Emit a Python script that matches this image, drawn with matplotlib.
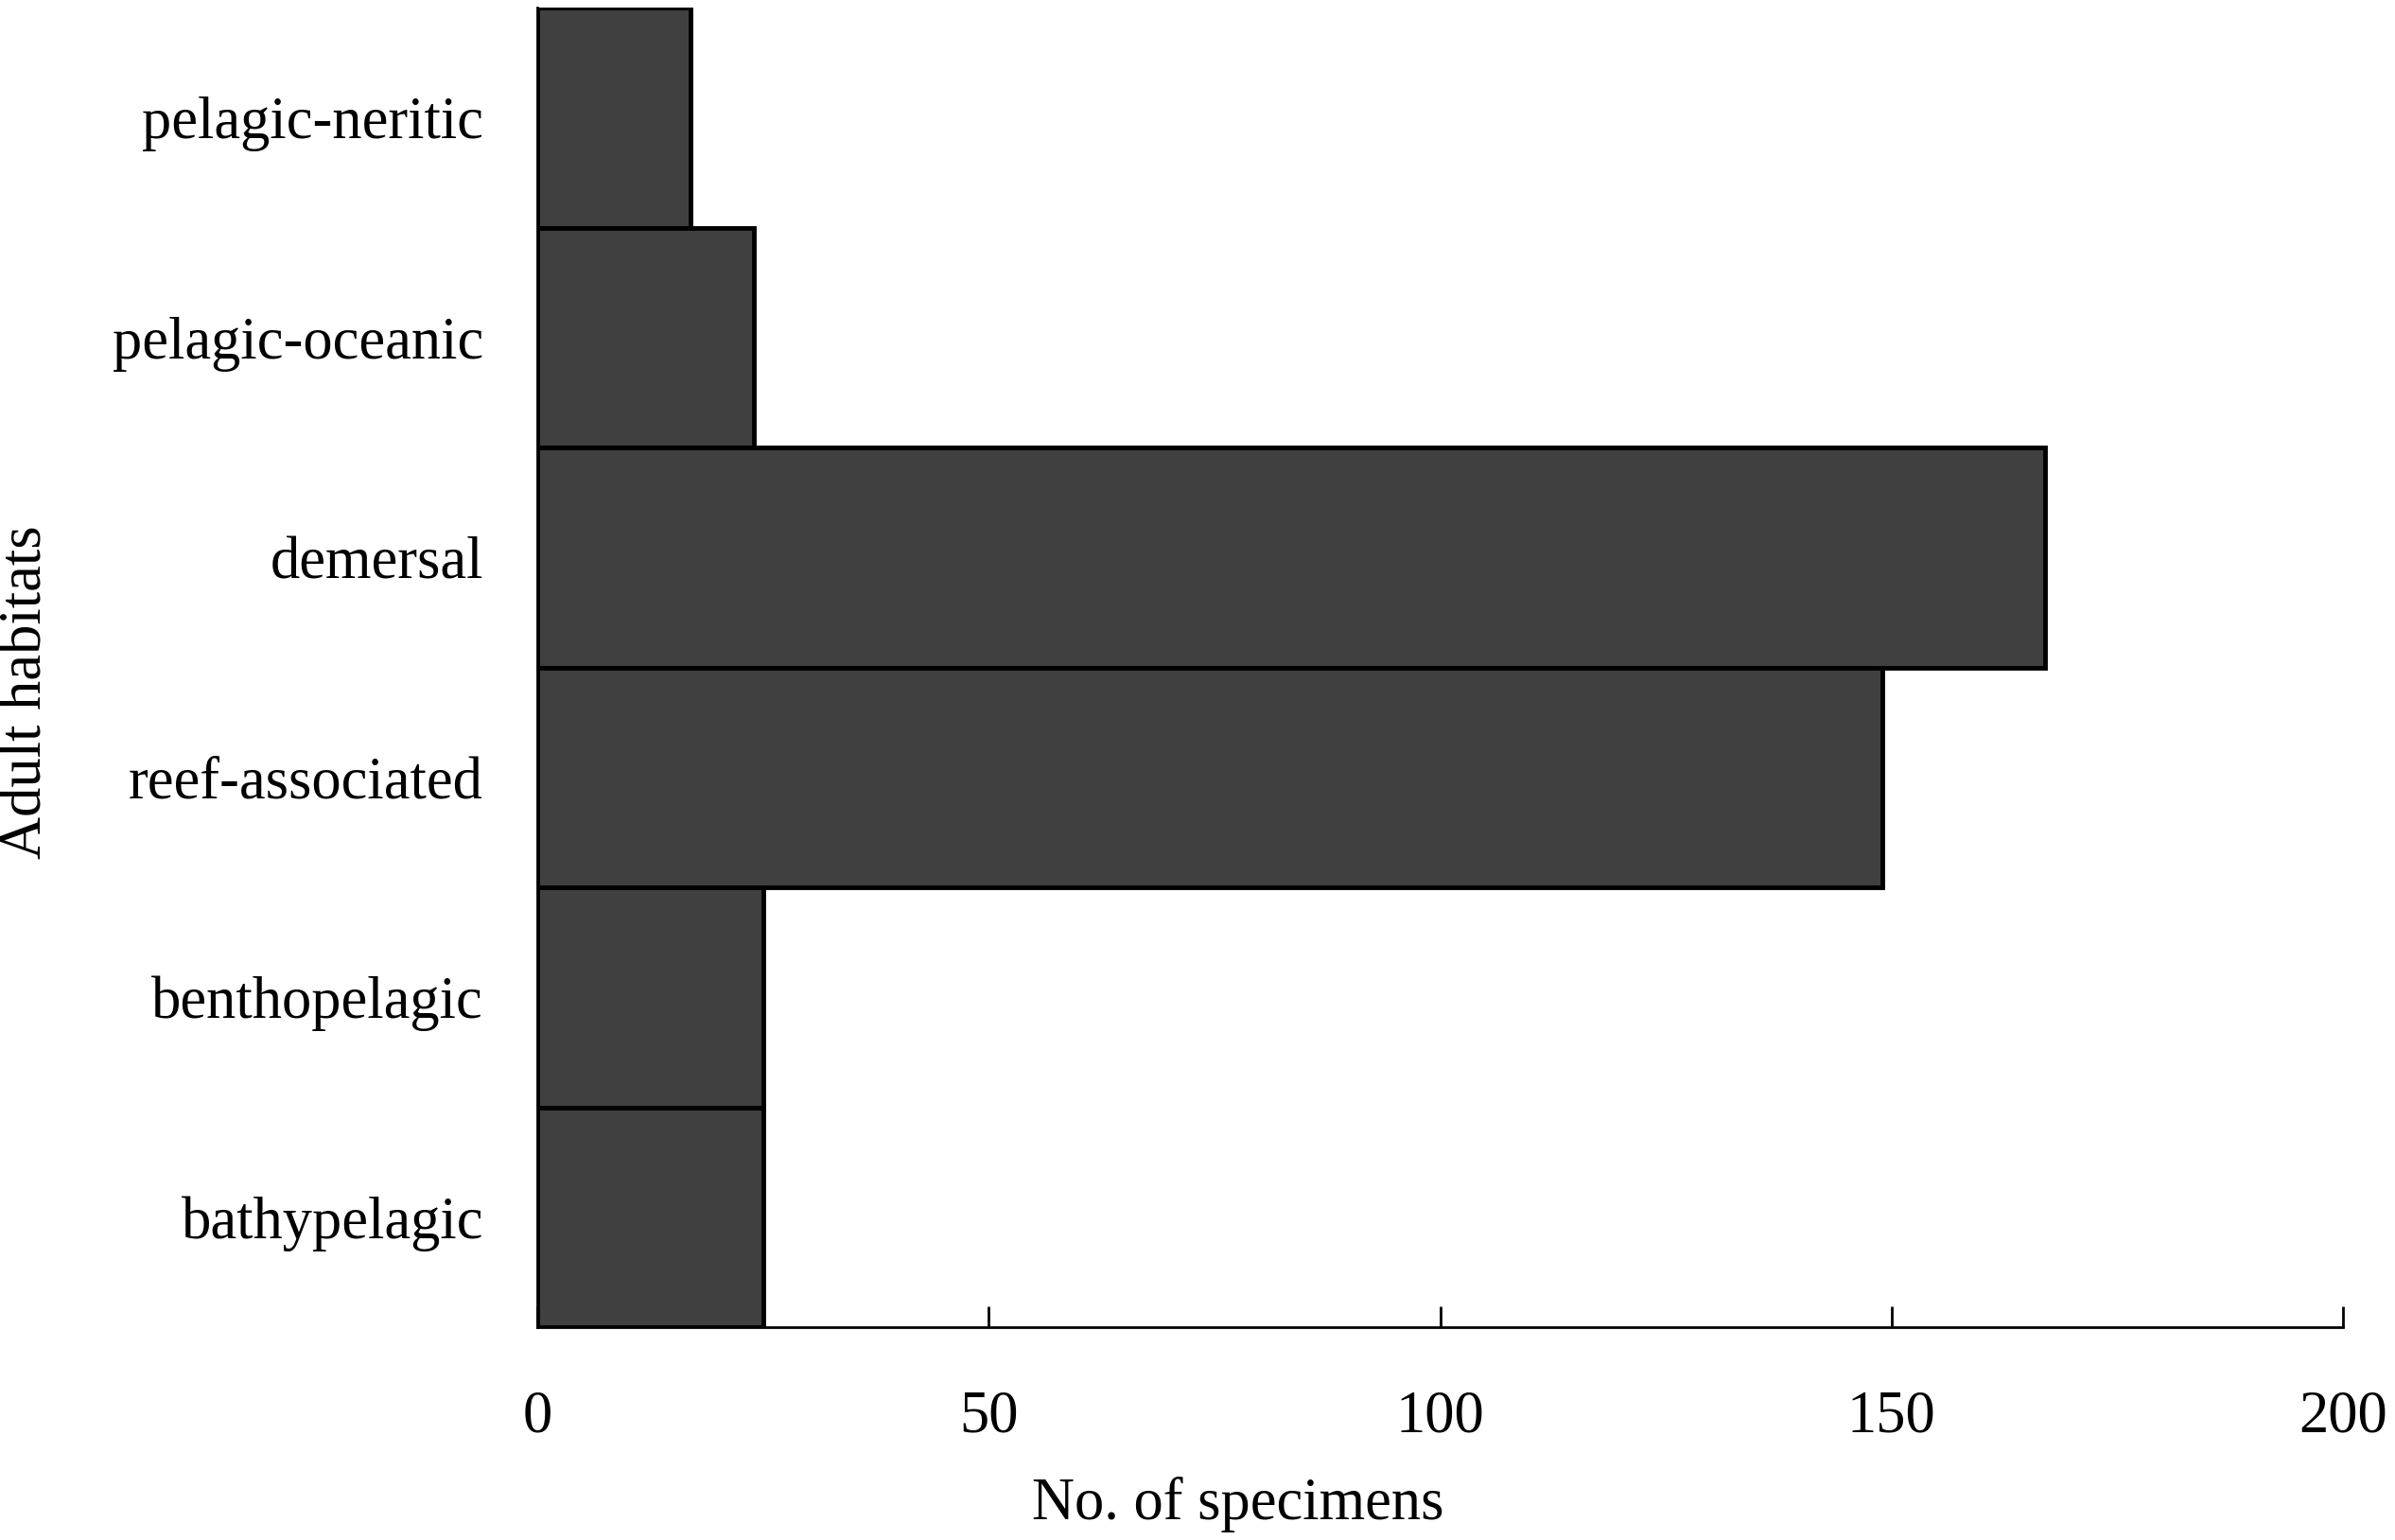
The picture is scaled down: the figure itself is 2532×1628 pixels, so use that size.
import matplotlib
matplotlib.use("Agg")
import matplotlib.pyplot as plt

categories = ["pelagic-neritic", "pelagic-oceanic", "demersal",
              "reef-associated", "benthopelagic", "bathypelagic"]
counts = [17, 24, 167, 149, 25, 25]
xticks = [0, 50, 100, 150, 200]
xlabel = "No. of specimens"
ylabel = "Adult habitats"

plt.rcParams['font.family'] = ['Liberation Serif', 'DejaVu Serif']

fig = plt.figure(figsize=(25.32, 16.28), dpi=100)
ax = fig.add_axes([568/2532, 1 - 1403/1628, (2477-568)/2532, (1403-8)/1628])

ypos = list(range(len(categories)))
ax.barh(ypos, counts, height=1.0, color="#404040", edgecolor="black", linewidth=3.5)
ax.set_ylim(len(categories) - 0.5, -0.5)
ax.set_xlim(0, 200)
ax.set_yticks(ypos)
ax.set_yticklabels(categories, fontsize=45)
ax.set_xticks(xticks)
ax.set_xticklabels([str(t) for t in xticks], fontsize=45)
ax.tick_params(axis='y', length=0, pad=41)
ax.tick_params(axis='x', direction='in', length=16, width=2, pad=48)
for s in ['top', 'right']:
    ax.spines[s].set_visible(False)
for s in ['left', 'bottom']:
    ax.spines[s].set_linewidth(2)

fig.text(1309/2532, 1 - 1590/1628, xlabel, ha='center', va='center', fontsize=45)
fig.text(29/2532, 1 - 732/1628, ylabel, ha='center', va='center', rotation=90, fontsize=45)

fig.savefig("out.png", dpi=100, facecolor="white")
